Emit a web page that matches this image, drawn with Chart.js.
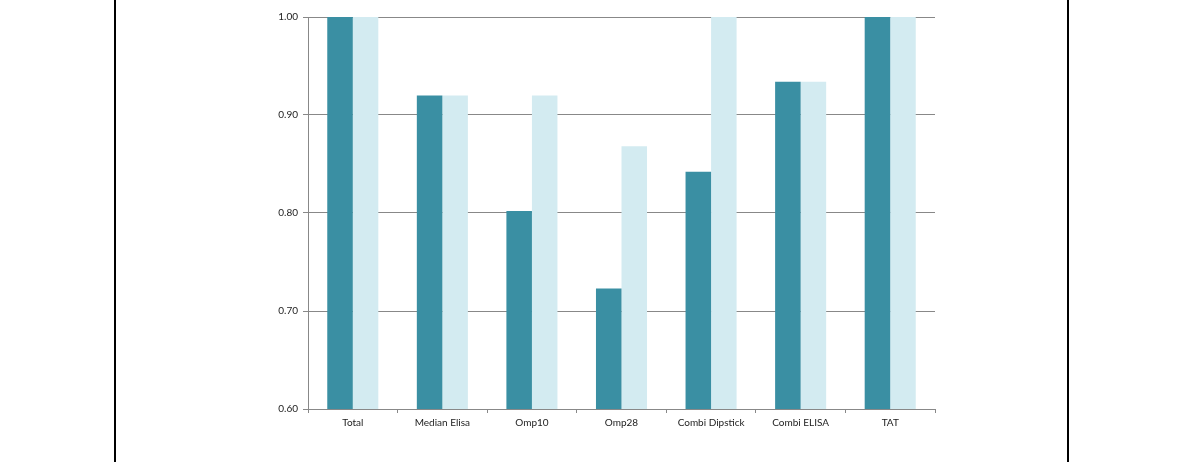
<!DOCTYPE html>
<html>
<head>
<meta charset="utf-8">
<script src="https://cdn.jsdelivr.net/npm/chart.js@4/dist/chart.umd.min.js"></script>
<style>
  html, body { margin: 0; padding: 0; background: #fff; }
  #wrap { position: relative; width: 1190px; height: 464px; overflow: hidden; }
  #c { position: absolute; left: 0; top: 0; }
  .vline { position: absolute; top: 0; width: 2px; height: 462px; background: #000; }
</style>
</head>
<body>
<div id="wrap">
  <canvas id="c" width="1190" height="464"></canvas>
  <div class="vline" style="left:114px"></div>
  <div class="vline" style="left:1067px"></div>
</div>
<script>
const categories = ["Total", "Median Elisa", "Omp10", "Omp28", "Combi Dipstick", "Combi ELISA", "TAT"];
const seriesA = [1.00, 0.920, 0.802, 0.723, 0.842, 0.934, 1.00];
const seriesB = [1.00, 0.920, 0.920, 0.868, 1.00, 0.934, 1.00];
const yTickValues = [0.6, 0.7, 0.8, 0.9, 1.0];
const yTickLabels = ["0.60", "0.70", "0.80", "0.90", "1.00"];

const fontFam = "'Lato', 'Open Sans', sans-serif";

new Chart(document.getElementById('c'), {
  type: 'bar',
  data: {
    labels: categories,
    datasets: [
      { label: 'A', data: seriesA, backgroundColor: '#3a8fa3', borderWidth: 0,
        barPercentage: 1.0, categoryPercentage: 0.57 },
      { label: 'B', data: seriesB, backgroundColor: '#d3ebf1', borderWidth: 0,
        barPercentage: 1.0, categoryPercentage: 0.57 }
    ]
  },
  options: {
    responsive: false,
    animation: false,
    layout: { padding: { left: 268, right: 255, top: 17, bottom: 25 } },
    plugins: { legend: { display: false }, tooltip: { enabled: false } },
    scales: {
      x: {
        afterFit: s => { s.height = 30; },
        grid: { offset: true, drawOnChartArea: false, drawTicks: true, tickLength: 4, color: '#888' },
        border: { color: '#888', width: 1 },
        ticks: { color: '#222', font: { family: fontFam, size: 10 }, padding: 4, maxRotation: 0 }
      },
      y: {
        min: 0.6, max: 1.0,
        afterFit: s => { s.width = 40; },
        afterBuildTicks: s => { s.ticks = yTickValues.map(v => ({ value: v })); },
        grid: { color: '#888', tickLength: 5, lineWidth: 1 },
        border: { color: '#888', width: 1 },
        ticks: {
          color: '#222', font: { family: fontFam, size: 10 }, padding: 5,
          callback: (v) => { const i = yTickValues.findIndex(t => Math.abs(t - v) < 1e-6); return i >= 0 ? yTickLabels[i] : ''; }
        }
      }
    }
  }
});
</script>
</body>
</html>
